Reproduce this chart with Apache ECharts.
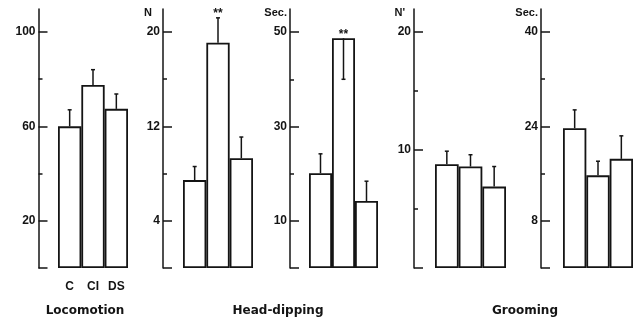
<!DOCTYPE html>
<html><head><meta charset="utf-8">
<script src="https://cdn.jsdelivr.net/npm/echarts@6/dist/echarts.min.js"></script>
<style>html,body{margin:0;padding:0;background:#fff}#c{width:638px;height:321px}</style>
</head><body><div id="c"></div>
<script>
// ---- data ----
const groups = ['C', 'CI', 'DS'];
const locoMean = [60, 77.5, 67.4];
const locoErr = [7, 6.5, 6.3];
const hdNMean = [7.45, 19.1, 9.3];
const hdNErr = [1.15, 2.1, 1.8];
const hdSecMean = [20.1, 48.7, 14.2];
const hdSecErr = [4.1, -8.7, 4.2];
const grNMean = [8.8, 8.6, 6.9];
const grNErr = [1.1, 1.0, 1.7];
const grSecMean = [23.7, 15.7, 18.5];
const grSecErr = [3.1, 2.4, 3.9];
const hdNSig = ['', '**', ''];
const hdSecSig = ['', '**', ''];
const noSig = ['', '', ''];
// tick labels (major) and minor ticks per panel
const locoTicks = [20, 60, 100], locoMinor = [40, 80];
const hdNTicks = [4, 12, 20], hdNMinor = [8, 16];
const hdSecTicks = [10, 30, 50], hdSecMinor = [20, 40];
const grNTicks = [10, 20], grNMinor = [5, 15];
const grSecTicks = [8, 24, 40], grSecMinor = [16, 32];
const units = ['', 'N', 'Sec.', "N'", 'Sec.'];
const sectionTitles = ['Locomotion', 'Head-dipping', 'Grooming'];

const panels = [
  {mean: locoMean, err: locoErr, sig: noSig, ticks: locoTicks, minor: locoMinor, max: 109.7, left: 58, width: 70, offset: 19.5, showCat: true},
  {mean: hdNMean, err: hdNErr, sig: hdNSig, ticks: hdNTicks, minor: hdNMinor, max: 21.95, left: 183, width: 70, offset: 20},
  {mean: hdSecMean, err: hdSecErr, sig: hdSecSig, ticks: hdSecTicks, minor: hdSecMinor, max: 54.9, left: 309, width: 69, offset: 19},
  {mean: grNMean, err: grNErr, sig: noSig, ticks: grNTicks, minor: grNMinor, max: 21.95, left: 435, width: 71, offset: 21},
  {mean: grSecMean, err: grSecErr, sig: noSig, ticks: grSecTicks, minor: grSecMinor, max: 43.9, left: 563, width: 70, offset: 22}
];

const INK = '#141414';
const FONT = '"Liberation Sans", Arial, sans-serif';
const grid = [], xAxis = [], yAxis = [], series = [];
panels.forEach((p, i) => {
  grid.push({left: p.left, top: 9, width: p.width, height: 259});
  xAxis.push({
    type: 'category', gridIndex: i, data: groups, position: 'bottom',
    axisLine: {show: false}, axisTick: {show: false},
    axisLabel: {show: !!p.showCat, margin: 13, color: INK, fontFamily: FONT, fontWeight: 'bold', fontSize: 12}
  });
  yAxis.push({
    type: 'value', gridIndex: i, position: 'left', min: 0, max: p.max, offset: p.offset,
    splitLine: {show: false},
    axisLine: {show: true, lineStyle: {color: INK, width: 1.5}},
    axisTick: {show: true, inside: true, length: 9, customValues: [0].concat(p.ticks), lineStyle: {color: INK, width: 1.5}},
    axisLabel: {customValues: p.ticks, margin: 3, color: INK, fontFamily: FONT, fontWeight: 'bold', fontSize: 12}
  });
  yAxis.push({
    type: 'value', gridIndex: i, position: 'left', min: 0, max: p.max, offset: p.offset,
    splitLine: {show: false},
    axisLine: {show: false},
    axisTick: {show: true, inside: true, length: 4, customValues: p.minor, lineStyle: {color: INK, width: 1.5}},
    axisLabel: {show: false}
  });
  series.push({
    type: 'bar', xAxisIndex: i, yAxisIndex: 2 * i, data: p.mean,
    barCategoryGap: '0%', barGap: '0%',
    itemStyle: {color: '#fff', borderColor: INK, borderWidth: 1.8},
    silent: true, animation: false
  });
  series.push({
    type: 'custom', xAxisIndex: i, yAxisIndex: 2 * i,
    data: p.mean.map((m, k) => [k, m, p.err[k]]),
    animation: false, silent: true, z: 5,
    renderItem: function (params, api) {
      const k = api.value(0), m = api.value(1), e = api.value(2);
      const a = api.coord([k, m]);
      const b = api.coord([k, m + e]);
      const children = [
        {type: 'line', shape: {x1: a[0], y1: a[1], x2: b[0], y2: b[1]}, style: {stroke: INK, lineWidth: 1.5}},
        {type: 'line', shape: {x1: b[0] - 2, y1: b[1], x2: b[0] + 2, y2: b[1]}, style: {stroke: INK, lineWidth: 1.5}}
      ];
      const s = p.sig[k];
      if (s) {
        const topY = Math.min(a[1], b[1]);
        children.push({type: 'text', style: {text: s, x: a[0], y: topY - 4, align: 'center', verticalAlign: 'middle', fill: INK, font: 'bold 12px ' + FONT}});
      }
      return {type: 'group', children: children};
    }
  });
});

const graphic = [];
const unitPos = [null, [152, 13], [287, 13], [405, 13], [538, 13]];
units.forEach((u, i) => {
  if (!u) return;
  graphic.push({type: 'text', x: unitPos[i][0], y: unitPos[i][1], style: {text: u, align: 'right', verticalAlign: 'middle', fill: INK, font: 'bold 11px ' + FONT}});
});
const titlePos = [[85, 311], [278, 311], [525, 311]];
sectionTitles.forEach((t, i) => {
  graphic.push({type: 'text', x: titlePos[i][0], y: titlePos[i][1], style: {text: t, align: 'center', verticalAlign: 'middle', fill: INK, font: 'bold 12px "DejaVu Sans", sans-serif'}});
});

const chart = echarts.init(document.getElementById('c'), null, {renderer: 'canvas'});
chart.setOption({animation: false, backgroundColor: '#fff', grid, xAxis, yAxis, series, graphic});
</script>
</body></html>
